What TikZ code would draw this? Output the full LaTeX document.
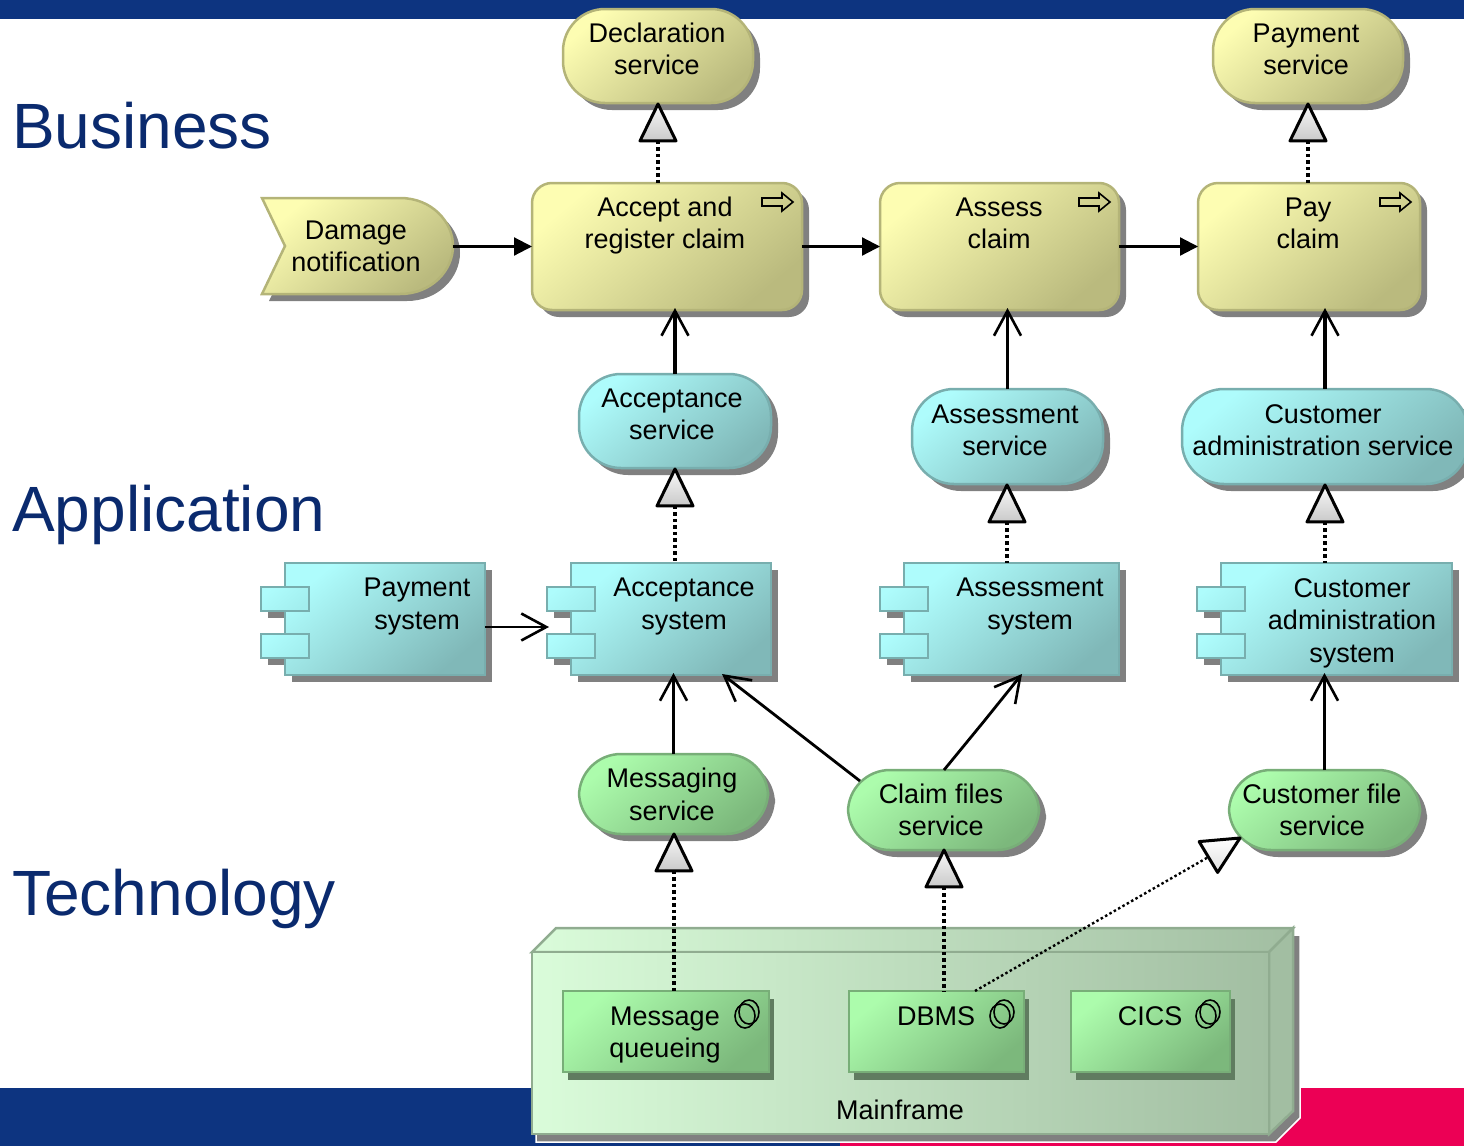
\documentclass[tikz,border=0pt]{standalone}
\usepackage{fontspec}
\setmainfont{Liberation Sans}
\usetikzlibrary{arrows.meta,shadows,shapes.geometric,calc}
\definecolor{navybar}{HTML}{0D3480}
\definecolor{pinkbar}{HTML}{EC0055}
\definecolor{headtxt}{HTML}{0A2A6E}
\definecolor{shadowgray}{HTML}{808080}
\definecolor{yellowA}{HTML}{FDFDB2}
\definecolor{yellowB}{HTML}{BABA7E}
\definecolor{yellowL}{HTML}{B4B478}
\definecolor{blueA}{HTML}{AEFCFC}
\definecolor{blueB}{HTML}{80B8B8}
\definecolor{blueL}{HTML}{78AEAE}
\definecolor{blueT}{HTML}{A2EEEE}
\definecolor{greenA}{HTML}{ACFCAC}
\definecolor{greenB}{HTML}{7CB87C}
\definecolor{greenL}{HTML}{78AE78}
\definecolor{frameA}{HTML}{DAFCDA}
\definecolor{frameB}{HTML}{A2BEA2}
\definecolor{frameL}{HTML}{90AC90}
\tikzset{
  yel/.style={draw=yellowL,top color=yellowA,bottom color=yellowB,shading angle=40},
  blu/.style={draw=blueL,top color=blueA,bottom color=blueB,shading angle=40},
  grn/.style={draw=greenL,top color=greenA,bottom color=greenB,shading angle=40},
  shape base/.style={line width=2.5pt,inner sep=0pt,outer sep=0pt},
  shad/.style={general shadow={fill=shadowgray,shadow xshift=7pt,shadow yshift=-7pt}},
  shaddev/.style={general shadow={fill=black!55!green!25!gray,shadow xshift=5pt,shadow yshift=-8pt}},
  procbox/.style={shape base,rectangle,rounded corners=20pt,shad},
  svcbox/.style={shape base,rectangle,rounded corners=42pt,shad},
  compbox/.style={shape base,rectangle,shad},
  tabbox/.style={shape base,rectangle,draw=blueL,top color=blueA,bottom color=blueT,shading angle=40},
  devbox/.style={shape base,rectangle,grn,shaddev},
  lbl/.style={align=center,text=black,inner sep=0pt,font=\fontsize{27}{32.5}\selectfont},
  head/.style={anchor=base west,text=headtxt,inner sep=0pt,font=\fontsize{64}{70}\selectfont},
  realtri/.style={isosceles triangle,isosceles triangle apex angle=52,inner sep=0pt,outer sep=0pt,
     minimum height=36pt,minimum width=36pt,draw=black,line width=3pt,line join=round,
     top color=gray!5,bottom color=gray!42,anchor=apex},
  realline/.style={line width=3.5pt,dash pattern=on 3.5pt off 3pt},
  realthin/.style={line width=2.4pt,dash pattern=on 2.5pt off 2.5pt},
  assign/.style={line width=3.4pt,-{Straight Barb[length=25pt,width=27pt,line width=2.6pt]}},
  assignthin/.style={line width=2.8pt,-{Straight Barb[length=25pt,width=27pt,line width=2.6pt]}},
  trig/.style={line width=2.2pt,-{Triangle[length=18pt,width=18pt]}},
  procicon/.style={draw=black,line width=1.6pt,fill=none,line join=miter},
}
\newcommand{\elem}[6]{%
  \pgfmathsetmacro{\ecx}{(#3+#5)/2}\pgfmathsetmacro{\ecy}{(#4+#6)/2}%
  \pgfmathsetmacro{\ew}{#5-#3}\pgfmathsetmacro{\eh}{#6-#4}%
  \node[#1,minimum width=\ew pt,minimum height=\eh pt] (#2) at (\ecx,\ecy) {};}
\newcommand{\comp}[6]{% style name x1 y1 x2 y2
  \pgfmathsetmacro{\tl}{#3-24}\pgfmathsetmacro{\tr}{#3+24}%
  \elem{tabbox,shad}{#2tabAs}{\tl}{587}{\tr}{611}
  \elem{tabbox,shad}{#2tabBs}{\tl}{634}{\tr}{658}
  \elem{compbox,#1}{#2}{#3}{#4}{#5}{#6}
  \pgfmathsetmacro{\tl}{#3-24}\pgfmathsetmacro{\tr}{#3+24}%
  \elem{tabbox}{#2tabA}{\tl}{587}{\tr}{611}
  \elem{tabbox}{#2tabB}{\tl}{634}{\tr}{658}}
\newcommand{\procarrow}[2]{% left x, top y
  \draw[procicon,shift={(#1,#2)}] (0,5)--(20,5)--(20,0)--(31,9)--(20,18)--(20,13)--(0,13)--cycle;}
\newcommand{\devicon}[2]{% centre
  \draw[draw=black,line width=1.6pt] (#1+2,#2-2) ellipse [x radius=10pt,y radius=12pt];
  \draw[draw=black,line width=1.6pt] (#1-2,#2+2) ellipse [x radius=10pt,y radius=12pt];}
\begin{document}
\begin{tikzpicture}[x=1pt,y=-1pt]
\useasboundingbox (0,0) rectangle (1464,1146);
% bars
\fill[navybar] (0,0) rectangle (1464,19);
\fill[navybar] (0,1088) rectangle (840,1146);
\fill[pinkbar] (840,1088) rectangle (1464,1146);
% headings
\node[head] (hbus) at (12,148) {Business};
\node[head] (happ) at (12,531) {Application};
\node[head] (htec) at (12,915) {Technology};
% mainframe
\path[fill=shadowgray,draw=white,line width=1.5pt] (536,1142)--(536,960)--(563,935)--(1300,935)--(1300,1118)--(1276,1142)--cycle;
\path[left color=frameA,right color=frameB,draw=frameL,line width=2.5pt] (532,952)--(556,928)--(1293,928)--(1269,952)--cycle;
\path[fill=frameB,draw=frameL,line width=2.5pt] (1269,952)--(1293,928)--(1293,1111)--(1269,1134)--cycle;
\elem{shape base,rectangle,draw=frameL,left color=frameA,right color=frameB}{mainframe}{532}{952}{1269}{1134}
% devices
\elem{devbox}{mq}{563}{991}{769}{1072}
\elem{devbox}{dbms}{849}{991}{1024}{1072}
\elem{devbox}{cics}{1071}{991}{1230}{1072}
\devicon{747}{1014}
\devicon{1002}{1014}
\devicon{1208}{1014}
% business services
\elem{svcbox,yel}{decl}{563}{9}{753}{103}
\elem{svcbox,yel}{pays}{1213}{9}{1403}{103}
% event
\path[general shadow={fill=shadowgray,shadow xshift=7pt,shadow yshift=-7pt},yel,line width=2.5pt,rounded corners=0pt]
  (262,198)--(400,198) .. controls (432,198) and (453,222) .. (453,246) .. controls (453,270) and (432,294) .. (400,294)--(262,294)--(285,246)--cycle;
\coordinate (dmg) at (453,246.5);
% processes
\elem{procbox,yel}{accept}{532}{183}{802}{310}
\elem{procbox,yel}{assess}{880}{183}{1119}{310}
\elem{procbox,yel}{payc}{1198}{183}{1420}{310}
\procarrow{762}{193}
\procarrow{1079}{193}
\procarrow{1380}{193}
% application services
\elem{svcbox,blu}{accs}{579}{374}{771}{468}
\elem{svcbox,blu}{asss}{912}{389}{1103}{484}
\elem{svcbox,blu}{cads}{1182}{389}{1468}{484}
% components
\comp{blu}{paysys}{285}{563}{485}{675}
\comp{blu}{accsys}{571}{563}{771}{675}
\comp{blu}{asssys}{904}{563}{1119}{675}
\comp{blu}{cadsys}{1221}{563}{1452}{675}
% technology services
\elem{svcbox,grn}{msgs}{579}{754}{768}{834}
\elem{svcbox,grn}{clms}{848}{770}{1039}{850}
\elem{svcbox,grn}{cfs}{1229}{770}{1420}{850}
% free ends
\coordinate (clmA) at (860,781);
\coordinate (clmB) at (944,770);
\coordinate (clmBend) at (985,720);
\coordinate (accIn) at (722,674);
\coordinate (assIn) at (1022,674);
\coordinate (dbmsOut) at (975,991);
\coordinate (cfsIn) at (1240,838);
\coordinate (paysysOut) at (485,627);
\coordinate (accsysIn) at (549,627);
% triggering
\draw[trig] (dmg) -- (accept.west);
\draw[trig] (accept.east) -- (assess.west);
\draw[trig] (assess.east) -- (payc.west);
% assignment-like arrows
\draw[assign] (accs.north) -- ([yshift=2pt]accs.north |- accept.south);
\draw[assign] (asss.north) -- ([yshift=2pt]asss.north |- assess.south);
\draw[assign] (cads.north) -- ([yshift=2pt]cads.north |- payc.south);
\draw[assignthin] (paysysOut) -- (accsysIn);
\draw[assign] (msgs.north) -- ([yshift=2pt]msgs.north |- accsys.south);
\draw[assign] (cfs.north) -- ([yshift=2pt]cfs.north |- cadsys.south);
\draw[assignthin] (clmA) -- (accIn);
\draw[assignthin] (clmB) -- (clmBend) -- (assIn);
% realisation triangles
\node[realtri,shape border rotate=90] (t1) at (658,104) {};
\node[realtri,shape border rotate=90] (t2) at (1308,104) {};
\node[realtri,shape border rotate=90] (t3) at (675,469) {};
\node[realtri,shape border rotate=90] (t4) at (1007,485) {};
\node[realtri,shape border rotate=90] (t5) at (1325,485) {};
\node[realtri,shape border rotate=90] (t6) at (674,834) {};
\node[realtri,shape border rotate=90] (t7) at (944,850) {};
\node[realtri,rotate=31,top color=white,bottom color=gray!25] (t8) at (cfsIn) {};
\draw[realline] (t1.lower side) -- (t1.lower side |- accept.north);
\draw[realline] (t2.lower side) -- (t2.lower side |- payc.north);
\draw[realline] (t3.lower side) -- (t3.lower side |- accsys.north);
\draw[realline] (t4.lower side) -- (t4.lower side |- asssys.north);
\draw[realline] (t5.lower side) -- (t5.lower side |- cadsys.north);
\draw[realline] (t6.lower side) -- (t6.lower side |- mq.north);
\draw[realline] (t7.lower side) -- (t7.lower side |- dbms.north);
\draw[realthin] (dbmsOut) -- (t8.lower side);
% labels
\node[lbl] (l1) at (657,49) {Declaration\\service};
\node[lbl] (l2) at (1306,49.5) {Payment\\service};
\node[lbl] (l3) at (356,246.5) {Damage\\notification};
\node[lbl] (l4) at (665,225.5) {Accept and\\register claim};
\node[lbl] (l5) at (999,223.5) {Assess\\claim};
\node[lbl] (l6) at (1308,223.5) {Pay\\claim};
\node[lbl] (l7) at (672,414.5) {Acceptance\\service};
\node[lbl] (l8) at (1005,430.5) {Assessment\\service};
\node[lbl] (l9) at (1323,430) {Customer\\administration service};
\node[lbl] (l10) at (417,606.5) {Payment\\system};
\node[lbl] (l11) at (684,606.5) {Acceptance\\system};
\node[lbl] (l12) at (1030,606.5) {Assessment\\system};
\node[lbl] (l13) at (1352,623) {Customer\\administration\\system};
\node[lbl] (l14) at (672,794.5) {Messaging\\service};
\node[lbl] (l15) at (941,810) {Claim files\\service};
\node[lbl] (l16) at (1322,810) {Customer file\\service};
\node[lbl] (l17) at (665,1035) {Message\\queueing};
\node[lbl] (l18) at (936,1016) {DBMS};
\node[lbl] (l19) at (1150,1016) {CICS};
\node[lbl] (l20) at (900,1110) {Mainframe};
\end{tikzpicture}
\end{document}
